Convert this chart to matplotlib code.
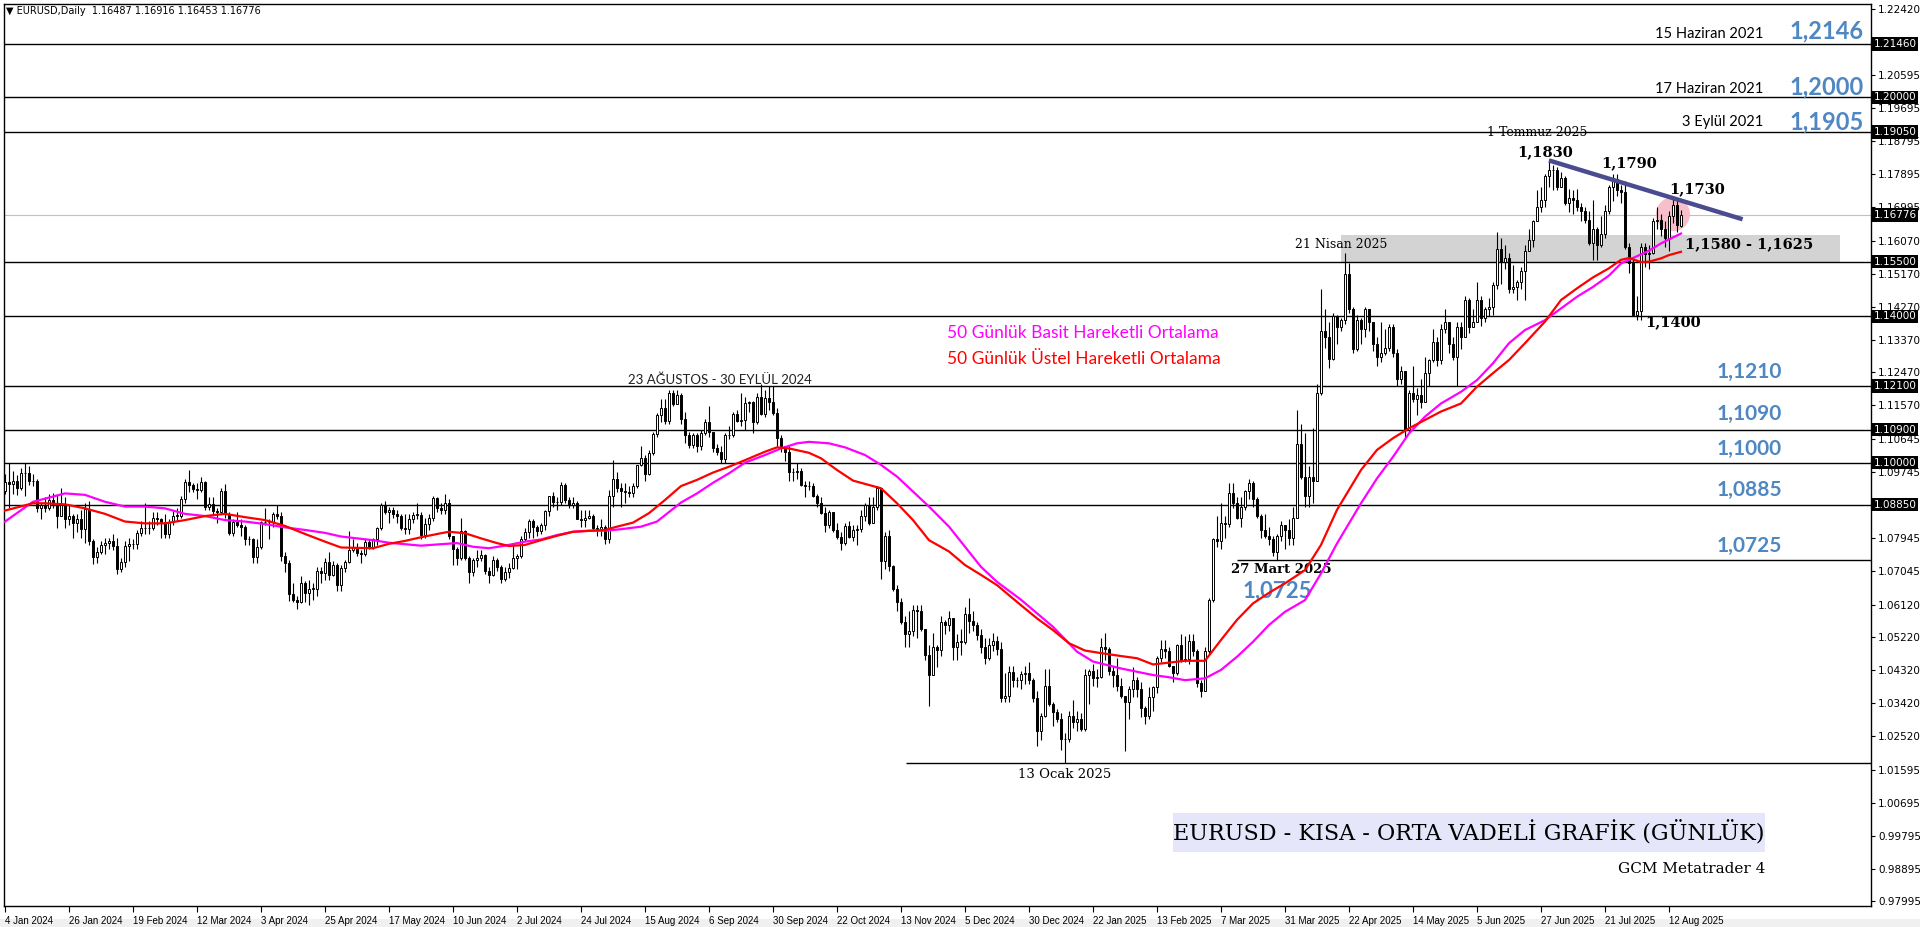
import numpy as np
import matplotlib.pyplot as plt
from matplotlib.patches import Rectangle

# EURUSD daily, 4 Jan 2024 .. 15 Aug 2025 (one value per bar)
closes = [
    1.0947, 1.0941, 1.0950, 1.0930, 1.0973, 1.0972, 1.0950, 1.0950, 1.0875, 1.0883,
    1.0875, 1.0897, 1.0885, 1.0855, 1.0885, 1.0845, 1.0855, 1.0834, 1.0845, 1.0818,
    1.0873, 1.0785, 1.0742, 1.0755, 1.0775, 1.0780, 1.0785, 1.0772, 1.0708, 1.0727,
    1.0772, 1.0777, 1.0778, 1.0808, 1.0820, 1.0822, 1.0820, 1.0850, 1.0845, 1.0838,
    1.0805, 1.0838, 1.0855, 1.0855, 1.0900, 1.0948, 1.0938, 1.0928, 1.0926, 1.0948,
    1.0880, 1.0888, 1.0867, 1.0865, 1.0922, 1.0860, 1.0808, 1.0838, 1.0830, 1.0825,
    1.0790, 1.0790, 1.0742, 1.0770, 1.0837, 1.0837, 1.0838, 1.0860, 1.0855, 1.0745,
    1.0726, 1.0642, 1.0625, 1.0618, 1.0672, 1.0643, 1.0655, 1.0655, 1.0703, 1.0697,
    1.0728, 1.0693, 1.0719, 1.0665, 1.0712, 1.0727, 1.0762, 1.0770, 1.0754, 1.0749,
    1.0782, 1.0770, 1.0790, 1.0820, 1.0884, 1.0866, 1.0870, 1.0860, 1.0855, 1.0822,
    1.0818, 1.0847, 1.0858, 1.0858, 1.0802, 1.0832, 1.0848, 1.0903, 1.0876, 1.0870,
    1.0890, 1.0800, 1.0765, 1.0740, 1.0812, 1.0740, 1.0700, 1.0735, 1.0740, 1.0748,
    1.0703, 1.0693, 1.0733, 1.0715, 1.0682, 1.0700, 1.0712, 1.0740, 1.0745, 1.0790,
    1.0810, 1.0840, 1.0825, 1.0813, 1.0830, 1.0868, 1.0908, 1.0893, 1.0893, 1.0938,
    1.0897, 1.0883, 1.0890, 1.0845, 1.0843, 1.0848, 1.0855, 1.0820, 1.0815, 1.0825,
    1.0790, 1.0910, 1.0955, 1.0930, 1.0923, 1.0920, 1.0917, 1.0935, 1.0993, 1.1012,
    1.0968, 1.1027, 1.1078, 1.1130, 1.1150, 1.1113, 1.1190, 1.1160, 1.1185, 1.1120,
    1.1077, 1.1048, 1.1075, 1.1045, 1.1080, 1.1110, 1.1085, 1.1040, 1.1030, 1.1010,
    1.1075, 1.1075, 1.1133, 1.1115, 1.1118, 1.1162, 1.1165, 1.1110, 1.1180, 1.1133,
    1.1178, 1.1165, 1.1135, 1.1068, 1.1045, 1.1030, 1.0975, 1.0975, 1.0978, 1.0940,
    1.0935, 1.0937, 1.0910, 1.0890, 1.0863, 1.0830, 1.0865, 1.0815, 1.0797, 1.0780,
    1.0828, 1.0798, 1.0815, 1.0818, 1.0855, 1.0883, 1.0835, 1.0880, 1.0930, 1.0730,
    1.0800, 1.0718, 1.0655, 1.0620, 1.0565, 1.0530, 1.0540, 1.0598, 1.0595, 1.0545,
    1.0473, 1.0418, 1.0495, 1.0487, 1.0565, 1.0555, 1.0576, 1.0497, 1.0510, 1.0510,
    1.0585, 1.0566, 1.0555, 1.0528, 1.0495, 1.0467, 1.0502, 1.0513, 1.0490, 1.0355,
    1.0362, 1.0428, 1.0405, 1.0405, 1.0422, 1.0425, 1.0405, 1.0355, 1.0265, 1.0307,
    1.0390, 1.0340, 1.0318, 1.0300, 1.0244, 1.0245, 1.0308, 1.0290, 1.0300, 1.0272,
    1.0420, 1.0430, 1.0410, 1.0415, 1.0495, 1.0490, 1.0430, 1.0420, 1.0390, 1.0362,
    1.0345, 1.0380, 1.0405, 1.0380, 1.0330, 1.0306, 1.0360, 1.0385, 1.0466, 1.0490,
    1.0485, 1.0445, 1.0425, 1.0500, 1.0460, 1.0463, 1.0512, 1.0485, 1.0398, 1.0375,
    1.0485, 1.0625, 1.0790, 1.0785, 1.0835, 1.0833, 1.0918, 1.0890, 1.0850, 1.0880,
    1.0922, 1.0945, 1.0900, 1.0855, 1.0815, 1.0800, 1.0790, 1.0755, 1.0800, 1.0830,
    1.0815, 1.0793, 1.0850, 1.1050, 1.0960, 1.0910, 1.0960, 1.0950, 1.1190, 1.1360,
    1.1345, 1.1285, 1.1400, 1.1370, 1.1390, 1.1515, 1.1420, 1.1310, 1.1390, 1.1365,
    1.1420, 1.1385, 1.1325, 1.1290, 1.1300, 1.1315, 1.1370, 1.1300, 1.1230, 1.1250,
    1.1090, 1.1190, 1.1175, 1.1185, 1.1165, 1.1245, 1.1280, 1.1330, 1.1280, 1.1365,
    1.1385, 1.1325, 1.1290, 1.1370, 1.1345, 1.1445, 1.1370, 1.1385, 1.1445, 1.1395,
    1.1420, 1.1425, 1.1485, 1.1585, 1.1550, 1.1560, 1.1475, 1.1480, 1.1495, 1.1525,
    1.1580, 1.1610, 1.1660, 1.1700, 1.1718, 1.1785, 1.1800, 1.1800, 1.1755, 1.1780,
    1.1710, 1.1725, 1.1720, 1.1700, 1.1690, 1.1665, 1.1600, 1.1640, 1.1595, 1.1625,
    1.1690, 1.1755, 1.1775, 1.1745, 1.1740, 1.1590, 1.1545, 1.1405, 1.1415, 1.1590,
    1.1570, 1.1575, 1.1660, 1.1665, 1.1640, 1.1615, 1.1675, 1.1705, 1.1650, 1.16776,
]
highs = [
    1.0970, 1.0998, 1.0977, 1.0967, 1.0985, 1.0998, 1.0990, 1.0970, 1.0955, 1.0890,
    1.0905, 1.0915, 1.0917, 1.0912, 1.0932, 1.0905, 1.0885, 1.0860, 1.0860, 1.0870,
    1.0890, 1.0895, 1.0790, 1.0770, 1.0785, 1.0795, 1.0795, 1.0805, 1.0795, 1.0740,
    1.0785, 1.0795, 1.0790, 1.0815, 1.0840, 1.0890, 1.0840, 1.0865, 1.0865, 1.0850,
    1.0860, 1.0845, 1.0867, 1.0875, 1.0910, 1.0955, 1.0980, 1.0945, 1.0945, 1.0960,
    1.0950, 1.0905, 1.0905, 1.0875, 1.0930, 1.0942, 1.0865, 1.0845, 1.0865, 1.0845,
    1.0830, 1.0800, 1.0795, 1.0790, 1.0840, 1.0875, 1.0845, 1.0865, 1.0885, 1.0865,
    1.0755, 1.0735, 1.0670, 1.0635, 1.0690, 1.0675, 1.0680, 1.0670, 1.0715, 1.0715,
    1.0740, 1.0755, 1.0730, 1.0725, 1.0720, 1.0735, 1.0812, 1.0790, 1.0780, 1.0760,
    1.0790, 1.0790, 1.0795, 1.0825, 1.0890, 1.0895, 1.0880, 1.0880, 1.0870, 1.0860,
    1.0860, 1.0860, 1.0865, 1.0890, 1.0865, 1.0850, 1.0860, 1.0910, 1.0905, 1.0890,
    1.0915, 1.0900, 1.0780, 1.0770, 1.0850, 1.0815, 1.0745, 1.0740, 1.0760, 1.0760,
    1.0750, 1.0715, 1.0745, 1.0740, 1.0720, 1.0715, 1.0725, 1.0775, 1.0750, 1.0800,
    1.0820, 1.0845, 1.0845, 1.0830, 1.0835, 1.0870, 1.0910, 1.0920, 1.0905, 1.0948,
    1.0945, 1.0905, 1.0905, 1.0895, 1.0870, 1.0870, 1.0870, 1.0860, 1.0830, 1.0845,
    1.0830, 1.0925, 1.1008, 1.0975, 1.0945, 1.0945, 1.0935, 1.0945, 1.0995, 1.1045,
    1.1020, 1.1035, 1.1085, 1.1135, 1.1175, 1.1175, 1.1200, 1.1200, 1.1200, 1.1190,
    1.1140, 1.1085, 1.1080, 1.1080, 1.1090, 1.1120, 1.1155, 1.1085, 1.1050, 1.1045,
    1.1080, 1.1100, 1.1140, 1.1145, 1.1190, 1.1180, 1.1170, 1.1170, 1.1190, 1.1214,
    1.1200, 1.1210, 1.1210, 1.1150, 1.1075, 1.1040, 1.1045, 1.0985, 1.1000, 1.0985,
    1.0950, 1.0950, 1.0945, 1.0915, 1.0905, 1.0880, 1.0870, 1.0865, 1.0835, 1.0810,
    1.0835, 1.0840, 1.0830, 1.0830, 1.0870, 1.0890, 1.0905, 1.0905, 1.0937, 1.0930,
    1.0810, 1.0815, 1.0720, 1.0665, 1.0630, 1.0580, 1.0595, 1.0610, 1.0610, 1.0610,
    1.0545, 1.0500, 1.0535, 1.0500, 1.0580, 1.0570, 1.0595, 1.0560, 1.0530, 1.0545,
    1.0605, 1.0630, 1.0595, 1.0565, 1.0545, 1.0520, 1.0520, 1.0535, 1.0525, 1.0510,
    1.0425, 1.0445, 1.0445, 1.0415, 1.0430, 1.0445, 1.0455, 1.0410, 1.0375, 1.0315,
    1.0435, 1.0435, 1.0345, 1.0325, 1.0315, 1.0260, 1.0320, 1.0350, 1.0320, 1.0315,
    1.0435, 1.0435, 1.0450, 1.0435, 1.0520, 1.0535, 1.0495, 1.0445, 1.0465, 1.0410,
    1.0350, 1.0390, 1.0440, 1.0415, 1.0400, 1.0335, 1.0385, 1.0390, 1.0470, 1.0515,
    1.0515, 1.0495, 1.0445, 1.0505, 1.0530, 1.0525, 1.0530, 1.0530, 1.0490, 1.0405,
    1.0495, 1.0630, 1.0795, 1.0855, 1.0890, 1.0855, 1.0945, 1.0945, 1.0905, 1.0905,
    1.0925, 1.0955, 1.0950, 1.0905, 1.0860, 1.0860, 1.0825, 1.0800, 1.0805, 1.0840,
    1.0830, 1.0845, 1.0880, 1.1145, 1.1105, 1.1080, 1.0990, 1.1095, 1.1215, 1.1474,
    1.1420, 1.1385, 1.1410, 1.1405, 1.1395, 1.1574, 1.1545, 1.1425, 1.1405, 1.1395,
    1.1425, 1.1415, 1.1385, 1.1345, 1.1385, 1.1365, 1.1380, 1.1380, 1.1310, 1.1265,
    1.1250, 1.1200, 1.1265, 1.1205, 1.1230, 1.1290, 1.1285, 1.1365, 1.1345, 1.1380,
    1.1420, 1.1385, 1.1345, 1.1385, 1.1385, 1.1455, 1.1450, 1.1420, 1.1495, 1.1455,
    1.1425, 1.1450, 1.1495, 1.1630, 1.1615, 1.1595, 1.1575, 1.1540, 1.1500, 1.1535,
    1.1595, 1.1640, 1.1665, 1.1745, 1.1755, 1.1790, 1.1830, 1.1815, 1.1810, 1.1795,
    1.1785, 1.1750, 1.1745, 1.1750, 1.1710, 1.1700, 1.1690, 1.1720, 1.1645, 1.1675,
    1.1705, 1.1760, 1.1790, 1.1790, 1.1760, 1.1770, 1.1600, 1.1560, 1.1455, 1.1600,
    1.1600, 1.1595, 1.1670, 1.1700, 1.1680, 1.1660, 1.1690, 1.1730, 1.1720, 1.16916,
]
lows = [
    1.0915, 1.0877, 1.0915, 1.0912, 1.0925, 1.0910, 1.0940, 1.0935, 1.0865, 1.0845,
    1.0865, 1.0870, 1.0875, 1.0820, 1.0858, 1.0820, 1.0830, 1.0795, 1.0810, 1.0795,
    1.0780, 1.0775, 1.0722, 1.0725, 1.0750, 1.0750, 1.0765, 1.0760, 1.0695, 1.0700,
    1.0715, 1.0730, 1.0765, 1.0765, 1.0800, 1.0805, 1.0805, 1.0815, 1.0830, 1.0795,
    1.0795, 1.0795, 1.0830, 1.0840, 1.0850, 1.0890, 1.0920, 1.0920, 1.0900, 1.0920,
    1.0870, 1.0870, 1.0860, 1.0835, 1.0860, 1.0850, 1.0802, 1.0800, 1.0825, 1.0800,
    1.0775, 1.0775, 1.0725, 1.0725, 1.0765, 1.0830, 1.0790, 1.0825, 1.0845, 1.0730,
    1.0700, 1.0622, 1.0620, 1.0601, 1.0615, 1.0620, 1.0610, 1.0625, 1.0635, 1.0670,
    1.0680, 1.0680, 1.0690, 1.0650, 1.0650, 1.0700, 1.0725, 1.0755, 1.0745, 1.0725,
    1.0745, 1.0765, 1.0765, 1.0775, 1.0815, 1.0860, 1.0835, 1.0850, 1.0835, 1.0815,
    1.0805, 1.0805, 1.0835, 1.0845, 1.0790, 1.0795, 1.0815, 1.0840, 1.0865, 1.0860,
    1.0860, 1.0790, 1.0720, 1.0720, 1.0735, 1.0735, 1.0670, 1.0690, 1.0715, 1.0730,
    1.0695, 1.0670, 1.0690, 1.0705, 1.0670, 1.0675, 1.0685, 1.0710, 1.0710, 1.0740,
    1.0785, 1.0795, 1.0795, 1.0800, 1.0805, 1.0815, 1.0855, 1.0880, 1.0870, 1.0885,
    1.0890, 1.0875, 1.0875, 1.0845, 1.0825, 1.0825, 1.0845, 1.0815, 1.0800, 1.0800,
    1.0777, 1.0780, 1.0880, 1.0920, 1.0880, 1.0890, 1.0905, 1.0905, 1.0930, 1.0990,
    1.0950, 1.0965, 1.1020, 1.1070, 1.1110, 1.1105, 1.1105, 1.1155, 1.1160, 1.1105,
    1.1055, 1.1040, 1.1040, 1.1030, 1.1035, 1.1075, 1.1070, 1.1030, 1.1020, 1.1000,
    1.1000, 1.1065, 1.1070, 1.1110, 1.1100, 1.1090, 1.1140, 1.1080, 1.1105, 1.1130,
    1.1125, 1.1145, 1.1130, 1.1045, 1.1030, 1.1005, 1.0950, 1.0950, 1.0955, 1.0935,
    1.0905, 1.0925, 1.0905, 1.0880, 1.0860, 1.0810, 1.0820, 1.0810, 1.0790, 1.0760,
    1.0775, 1.0795, 1.0785, 1.0775, 1.0810, 1.0840, 1.0830, 1.0860, 1.0870, 1.0683,
    1.0710, 1.0705, 1.0650, 1.0595, 1.0560, 1.0495, 1.0495, 1.0525, 1.0520, 1.0540,
    1.0460, 1.0333, 1.0425, 1.0440, 1.0470, 1.0530, 1.0540, 1.0460, 1.0460, 1.0475,
    1.0505, 1.0535, 1.0540, 1.0515, 1.0480, 1.0450, 1.0460, 1.0485, 1.0475, 1.0345,
    1.0345, 1.0345, 1.0385, 1.0385, 1.0380, 1.0395, 1.0395, 1.0345, 1.0225, 1.0240,
    1.0305, 1.0335, 1.0280, 1.0290, 1.0215, 1.0178, 1.0235, 1.0275, 1.0265, 1.0265,
    1.0265, 1.0340, 1.0390, 1.0385, 1.0410, 1.0460, 1.0420, 1.0385, 1.0375, 1.0355,
    1.0210, 1.0300, 1.0360, 1.0360, 1.0305, 1.0285, 1.0300, 1.0320, 1.0370, 1.0455,
    1.0465, 1.0440, 1.0400, 1.0420, 1.0455, 1.0455, 1.0450, 1.0470, 1.0385, 1.0360,
    1.0390, 1.0475, 1.0620, 1.0770, 1.0765, 1.0795, 1.0825, 1.0875, 1.0845, 1.0825,
    1.0870, 1.0900, 1.0880, 1.0850, 1.0795, 1.0795, 1.0775, 1.0745, 1.0733, 1.0785,
    1.0765, 1.0775, 1.0775, 1.0850, 1.0955, 1.0880, 1.0880, 1.0890, 1.0950, 1.1185,
    1.1315, 1.1260, 1.1280, 1.1325, 1.1360, 1.1380, 1.1410, 1.1300, 1.1305, 1.1325,
    1.1345, 1.1360, 1.1305, 1.1265, 1.1275, 1.1295, 1.1305, 1.1290, 1.1210, 1.1215,
    1.1065, 1.1080, 1.1165, 1.1130, 1.1150, 1.1175, 1.1210, 1.1275, 1.1265, 1.1270,
    1.1355, 1.1300, 1.1280, 1.1210, 1.1310, 1.1345, 1.1355, 1.1370, 1.1385, 1.1375,
    1.1385, 1.1400, 1.1405, 1.1475, 1.1490, 1.1530, 1.1465, 1.1465, 1.1445, 1.1475,
    1.1445, 1.1585, 1.1590, 1.1660, 1.1685, 1.1700, 1.1755, 1.1745, 1.1745, 1.1760,
    1.1705, 1.1685, 1.1680, 1.1690, 1.1660, 1.1655, 1.1595, 1.1555, 1.1555, 1.1590,
    1.1615, 1.1680, 1.1715, 1.1730, 1.1710, 1.1585, 1.1520, 1.1400, 1.1391, 1.1390,
    1.1535, 1.1530, 1.1570, 1.1640, 1.1620, 1.1590, 1.1580, 1.1655, 1.1630, 1.16453,
]
first_open = 1.0922
last_open = 1.16487

# 50-day moving averages (bar index, value)
sma_bars = [0, 7, 15, 20, 25, 30, 35, 40, 45, 50, 55, 60, 65, 70, 75, 80, 84, 92, 96, 100,
            104, 109, 113, 117, 121, 125, 130, 134, 138, 142, 146, 150, 154, 159, 163, 169,
            173, 177, 181, 185, 190, 194, 198, 201, 206, 210, 215, 219, 223, 227, 231, 236,
            240, 244, 248, 254, 258, 262, 268, 272, 279, 283, 287, 291, 295, 300, 304, 308,
            312, 316, 320, 325, 329, 333, 339, 343, 347, 351, 355, 359, 364, 368, 372, 376,
            380, 385, 389, 393, 397, 401, 404, 407, 411, 414, 419]
sma_vals = [1.0839, 1.0893, 1.0916, 1.0912, 1.0893, 1.0880, 1.0880, 1.0875, 1.0860, 1.0854,
            1.0843, 1.0839, 1.0832, 1.0823, 1.0816, 1.0808, 1.0798, 1.0788, 1.0781, 1.0777,
            1.0773, 1.0777, 1.0780, 1.0770, 1.0766, 1.0773, 1.0784, 1.0790, 1.0802, 1.0811,
            1.0814, 1.0814, 1.0818, 1.0825, 1.0839, 1.0891, 1.0916, 1.0945, 1.0971, 1.1000,
            1.1021, 1.1039, 1.1053, 1.1057, 1.1053, 1.1042, 1.1021, 1.0994, 1.0962, 1.0921,
            1.0880, 1.0825, 1.0770, 1.0715, 1.0674, 1.0625, 1.0588, 1.0551, 1.0483, 1.0456,
            1.0437, 1.0428, 1.0419, 1.0413, 1.0405, 1.0410, 1.0433, 1.0469, 1.0510, 1.0556,
            1.0592, 1.0624, 1.0697, 1.0779, 1.0889, 1.0957, 1.1016, 1.1080, 1.1126, 1.1162,
            1.1194, 1.1226, 1.1272, 1.1327, 1.1363, 1.1390, 1.1422, 1.1454, 1.1481, 1.1512,
            1.1545, 1.1560, 1.1580, 1.1600, 1.1627]
ema_bars = [0, 7, 10, 15, 20, 25, 30, 35, 40, 45, 50, 55, 60, 65, 70, 75, 80, 84, 92, 96,
            100, 104, 109, 111, 115, 119, 123, 126, 130, 134, 138, 142, 147, 150, 153, 157,
            161, 165, 169, 173, 177, 181, 185, 190, 193, 196, 201, 204, 208, 212, 216, 219,
            223, 227, 231, 236, 240, 244, 248, 254, 258, 262, 266, 270, 274, 279, 283, 287,
            291, 295, 300, 304, 308, 312, 316, 320, 325, 329, 333, 339, 343, 347, 351, 355,
            359, 364, 368, 372, 376, 380, 385, 389, 393, 397, 401, 404, 406, 409, 411, 414,
            416, 419]
ema_vals = [1.0869, 1.0889, 1.0889, 1.0886, 1.0875, 1.0860, 1.0839, 1.0834, 1.0834, 1.0843,
            1.0854, 1.0860, 1.0851, 1.0843, 1.0827, 1.0805, 1.0784, 1.0768, 1.0766, 1.0778,
            1.0786, 1.0796, 1.0807, 1.0811, 1.0807, 1.0793, 1.0780, 1.0772, 1.0775, 1.0788,
            1.0800, 1.0811, 1.0814, 1.0816, 1.0825, 1.0836, 1.0862, 1.0898, 1.0936, 1.0953,
            1.0973, 1.0989, 1.1007, 1.1030, 1.1042, 1.1039, 1.1027, 1.1012, 1.0980, 1.0951,
            1.0939, 1.0930, 1.0889, 1.0843, 1.0788, 1.0757, 1.0720, 1.0693, 1.0665, 1.0610,
            1.0574, 1.0542, 1.0506, 1.0486, 1.0479, 1.0471, 1.0465, 1.0448, 1.0453, 1.0458,
            1.0458, 1.0515, 1.0570, 1.0615, 1.0644, 1.0670, 1.0706, 1.0775, 1.0871, 1.0980,
            1.1035, 1.1067, 1.1094, 1.1117, 1.1140, 1.1162, 1.1208, 1.1245, 1.1281, 1.1327,
            1.1386, 1.1445, 1.1477, 1.1507, 1.1532, 1.1555, 1.1560, 1.1549, 1.1550, 1.1559,
            1.1568, 1.1577]

date_labels = ['4 Jan 2024', '26 Jan 2024', '19 Feb 2024', '12 Mar 2024', '3 Apr 2024',
               '25 Apr 2024', '17 May 2024', '10 Jun 2024', '2 Jul 2024', '24 Jul 2024',
               '15 Aug 2024', '6 Sep 2024', '30 Sep 2024', '22 Oct 2024', '13 Nov 2024',
               '5 Dec 2024', '30 Dec 2024', '22 Jan 2025', '13 Feb 2025', '7 Mar 2025',
               '31 Mar 2025', '22 Apr 2025', '14 May 2025', '5 Jun 2025', '27 Jun 2025',
               '21 Jul 2025', '12 Aug 2025']
price_ticks = [1.22420, 1.20595, 1.19695, 1.18795, 1.17895, 1.16995, 1.16070, 1.15170,
               1.14270, 1.13370, 1.12470, 1.11570, 1.10645, 1.09745, 1.07945, 1.07045,
               1.06120, 1.05220, 1.04320, 1.03420, 1.02520, 1.01595, 1.00695, 0.99795,
               0.98895, 0.97995]
levels = [1.2146, 1.2000, 1.1905, 1.1550, 1.1400, 1.1210, 1.1090, 1.1000, 1.0885]
current_price = 1.16776
mart_level = 1.0734
ocak_level = 1.0178
zone_low, zone_high = 1.1550, 1.1622
trend_x = [386, 434.4]
trend_y = [1.1827, 1.1666]

# ---------------------------------------------------------------
n = len(closes)
x = np.arange(n)
opens = [first_open] + closes[:-1]
opens[-1] = last_open
o = np.array(opens)
c = np.array(closes)
h = np.maximum(np.array(highs), np.maximum(o, c))
l = np.minimum(np.array(lows), np.minimum(o, c))

fig = plt.figure(figsize=(19.2, 9.27), dpi=100)
fig.patch.set_facecolor('white')
strip = Rectangle((0, 0), 1, 8 / 927, transform=fig.transFigure,
                  facecolor='#f0f0f0', edgecolor='none', zorder=-5)
fig.patches.append(strip)
ax = fig.add_axes([4 / 1920, 21 / 927, 1867 / 1920, 902 / 927])
ax.set_xlim(-0.25, 466.5)
ax.set_ylim(0.97871, 1.22550)

# levels
for lv in levels:
    ax.axhline(lv, color='black', lw=1.0, zorder=2)
ax.axhline(current_price, color='#c0c0c0', lw=0.8, zorder=1)
ax.hlines(mart_level, 308, 466.5, color='black', lw=1.0, zorder=2)
ax.hlines(ocak_level, 225.25, 466.5, color='black', lw=1.0, zorder=2)
ax.add_patch(Rectangle((334, zone_low), 124.75, zone_high - zone_low,
                       facecolor='#d3d3d3', edgecolor='none', zorder=1))
ax.scatter([417], [1.1680], s=600, color='#f7b8c4', alpha=0.9, zorder=1.5,
           edgecolors='none')

# candles
ax.vlines(x, l, h, color='black', lw=0.8, zorder=3)
up = c >= o
body_b = np.minimum(o, c)
body_h = np.maximum(np.abs(c - o), 0.00008)
ax.bar(x[up], body_h[up], bottom=body_b[up], width=0.6, color='white',
       edgecolor='black', linewidth=0.7, zorder=4)
ax.bar(x[~up], body_h[~up], bottom=body_b[~up], width=0.6, color='black',
       edgecolor='black', linewidth=0.7, zorder=4)

# moving averages
ax.plot(sma_bars, sma_vals, color='#ff00ff', lw=1.6, zorder=5)
ax.plot(ema_bars, ema_vals, color='#ff0000', lw=1.6, zorder=5)

ax.plot(trend_x, trend_y, color='#4b4b8f', lw=3.2, solid_capstyle='butt', zorder=6)

# axes styling
for s in ax.spines.values():
    s.set_color('black')
    s.set_linewidth(1.0)
ax.yaxis.tick_right()
ax.set_yticks(price_ticks)
ax.set_yticklabels([f'{p:.5f}' for p in price_ticks])
ax.tick_params(axis='y', length=3, pad=2, labelsize=7.5, width=0.8)
ax.set_xticks(np.arange(0, n, 16)[:len(date_labels)])
ax.set_xticklabels(date_labels, ha='left', family='Liberation Sans', fontsize=7)
ax.tick_params(axis='x', length=4, pad=3, width=0.8)

ytr = ax.get_yaxis_transform()
for lv in levels + [current_price]:
    ax.text(1.0013, lv, f'{lv:.5f}', transform=ytr, color='white', fontsize=7.5,
            va='center', ha='left', zorder=10,
            bbox=dict(facecolor='black', edgecolor='none', pad=1.2))

fig.text(6 / 1920, 1 - 11 / 927, '\u25bc EURUSD,Daily  1.16487 1.16916 1.16453 1.16776',
         fontsize=7, va='center', ha='left')

# annotations
serif = 'DejaVu Serif'
blue = '#4f87c2'
ax.text(439.5, 1.2173, '15 Haziran 2021', family='Lato', fontsize=10.5, ha='right', va='center')
ax.text(439.5, 1.2022, '17 Haziran 2021', family='Lato', fontsize=10.5, ha='right', va='center')
ax.text(439.5, 1.1932, '3 Eylül 2021', family='Lato', fontsize=10.5, ha='right', va='center')
for yy, t in [(1.2181, '1,2146'), (1.2028, '1,2000'), (1.1932, '1,1905')]:
    ax.text(446, yy, t, family='Lato', fontweight='bold', fontsize=17, color=blue,
            ha='left', va='center')
for yy, t in [(1.1248, '1,1210'), (1.1133, '1,1090'), (1.1037, '1,1000'),
              (1.0925, '1,0885'), (1.0772, '1,0725')]:
    ax.text(428, yy, t, family='Lato', fontweight='bold', fontsize=15, color=blue,
            ha='left', va='center')

ax.text(383, 1.1904, '1 Temmuz 2025', family=serif, fontsize=9, ha='center', va='center')
ax.text(385, 1.1849, '1,1830', family=serif, fontweight='bold', fontsize=10.5,
        ha='center', va='center')
ax.text(406, 1.1819, '1,1790', family=serif, fontweight='bold', fontsize=10.5,
        ha='center', va='center')
ax.text(423, 1.1748, '1,1730', family=serif, fontweight='bold', fontsize=10.5,
        ha='center', va='center')
ax.text(420, 1.1598, '1,1580 - 1,1625', family=serif, fontweight='bold', fontsize=10.5,
        ha='left', va='center')
ax.text(410, 1.1384, '1,1400', family=serif, fontweight='bold', fontsize=10.5,
        ha='left', va='center')
ax.text(345.5, 1.1598, '21 Nisan 2025', family=serif, fontsize=9, ha='right', va='center')
ax.text(235.4, 1.1355, '50 Günlük Basit Hareketli Ortalama', family='Lato', fontsize=12.5,
        color='#ff00ff', ha='left', va='center')
ax.text(235.4, 1.1284, '50 Günlük Üstel Hareketli Ortalama', family='Lato', fontsize=12.5,
        color='#ff0000', ha='left', va='center')
ax.text(178.75, 1.1226, '23 AĞUSTOS - 30 EYLÜL 2024', family='Lato', fontsize=9.5,
        color='#222222', ha='center', va='center')
ax.text(319, 1.0709, '27 Mart 2025', family=serif, fontweight='bold', fontsize=9.5,
        ha='center', va='center')
ax.text(318, 1.0649, '1,0725', family='Lato', fontweight='bold', fontsize=16, color=blue,
        ha='center', va='center')
ax.text(265, 1.0148, '13 Ocak 2025', family=serif, fontsize=9.5, ha='center', va='center')

ax.add_patch(Rectangle((292, 0.99349), 148, 0.01067, facecolor='#e6e6fa',
                       edgecolor='none', zorder=2))
ax.text(366, 0.99883, 'EURUSD - KISA - ORTA VADELİ GRAFİK (GÜNLÜK)',
        family=serif, fontsize=16, ha='center', va='center', zorder=3)
ax.text(440, 0.98888, 'GCM Metatrader 4', family=serif,
        fontsize=11, ha='right', va='center')

fig.savefig('out.png', dpi=100)
